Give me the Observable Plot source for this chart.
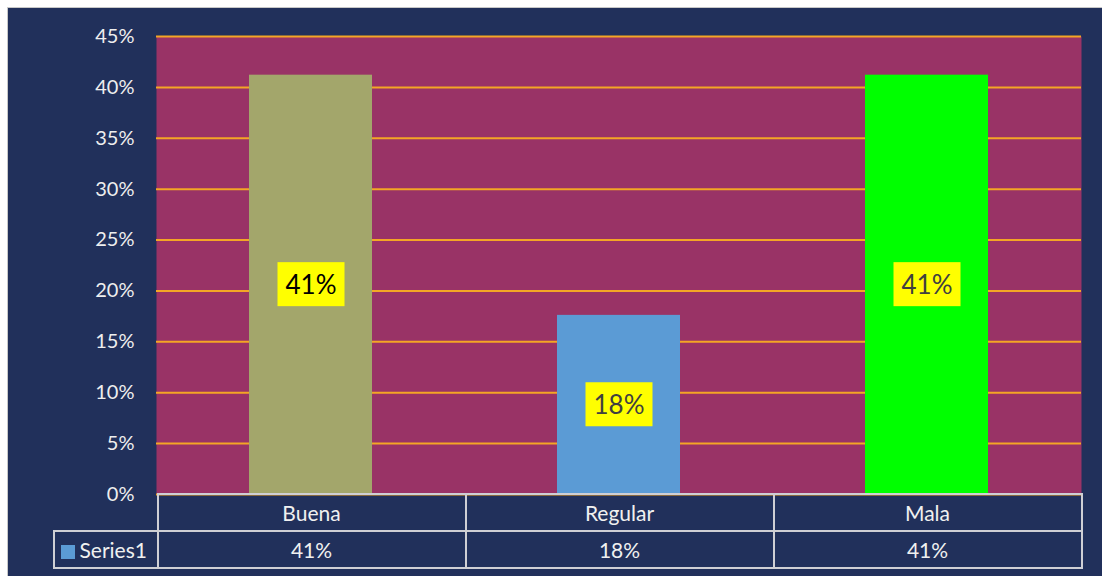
<!DOCTYPE html>
<html>
<head>
<meta charset="utf-8">
<script src="https://cdn.jsdelivr.net/npm/d3@7"></script>
<script src="https://cdn.jsdelivr.net/npm/@observablehq/plot@0.6"></script>
<style>
  html, body { margin: 0; padding: 0; background: #ffffff; }
  #panel {
    position: absolute; left: 7px; top: 7px; width: 1095px; height: 569px;
    background: #21305b; border-top: 1px solid #c8c8c8; border-left: 1px solid #c8c8c8;
    box-sizing: border-box; overflow: hidden; font-family: Lato, "Open Sans", sans-serif;
  }
  #chart { position: absolute; left: 0; top: 0; }
  #table {
    position: absolute; border-collapse: collapse; table-layout: fixed;
    color: #f0f0f0; font-size: 21px; font-family: Lato, "Open Sans", sans-serif;
  }
  #table td { border: 2px solid #cfcfd4; text-align: center; height: 35px; padding: 0; }
  #table td.blank { border: none; border-bottom: 2px solid #cfcfd4; }
  #table td.legend { text-align: left; padding-left: 6px; }
  .swatch { display: inline-block; width: 14px; height: 14px; margin-right: 5px; vertical-align: -1px; }
</style>
</head>
<body>
<div id="panel"><div id="chart"></div></div>
<script>
const categories = ["Buena", "Regular", "Mala"];
const values = [41.2, 17.6, 41.2];
const labels = ["41%", "18%", "41%"];
const barColors = ["#a3a66b", "#5b9bd5", "#00ff00"];
const labelColors = ["#000000", "#404040", "#404040"];
const yTicks = [0, 5, 10, 15, 20, 25, 30, 35, 40, 45];
const seriesName = "Series1";
const seriesColor = "#5b9bd5";

const data = categories.map((c, i) => ({
  category: c, value: values[i], label: labels[i],
  barColor: barColors[i], labelColor: labelColors[i]
}));

const chart = Plot.plot({
  width: 1094,
  height: 498,
  marginLeft: 148,
  marginRight: 21,
  marginTop: 28,
  marginBottom: 12,
  style: { background: "transparent", fontFamily: "Lato, 'Open Sans', sans-serif", overflow: "visible" },
  x: { domain: categories, paddingInner: 0.6, paddingOuter: 0.3, axis: null },
  y: { domain: [0, 45], ticks: yTicks },
  marks: [
    Plot.frame({ fill: "#993366", stroke: null }),
    Plot.gridY(yTicks, { stroke: "#f4a625", strokeOpacity: 1, strokeWidth: 2 }),
    Plot.axisY(yTicks, {
      tickSize: 0, tickPadding: 22, tickFormat: d => d + "%",
      fontSize: 20, fill: "#eeeeee", label: null
    }),
    Plot.barY(data, { x: "category", y: "value", fill: "barColor" }),
    Plot.text(data, {
      x: "category", y: d => d.value / 2, text: "label",
      fill: "labelColor", fontSize: 26, className: "dlabel"
    })
  ]
});
document.getElementById("chart").appendChild(chart);

// yellow label boxes behind data labels
chart.querySelectorAll("g.dlabel text").forEach(t => {
  const bb = t.getBBox();
  const cx = bb.x + bb.width / 2, cy = bb.y + bb.height / 2;
  const w = 67, h = 44;
  const tr = (t.getAttribute("transform") || "") + " translate(0,1)";
  const r = document.createElementNS("http://www.w3.org/2000/svg", "rect");
  r.setAttribute("x", cx - w / 2);
  r.setAttribute("y", cy - h / 2);
  r.setAttribute("width", w);
  r.setAttribute("height", h);
  r.setAttribute("fill", "#ffff00");
  r.setAttribute("transform", tr);
  t.parentNode.insertBefore(r, t);
  t.setAttribute("transform", tr);
});

// data table below, aligned with the x scale
const xs = chart.scale("x");
const yScale = chart.scale("y");
const step = xs.step;
const colLeft = xs.apply(categories[0]) - (xs.step - xs.bandwidth) / 2;
const legendW = 104;
const table = document.createElement("table");
table.id = "table";
table.style.left = (colLeft - legendW) + "px";
table.style.top = (yScale.apply(0) - 1) + "px";
table.style.width = (legendW + step * categories.length) + "px";
const colgroup = document.createElement("colgroup");
const c0 = document.createElement("col"); c0.style.width = legendW + "px"; colgroup.appendChild(c0);
categories.forEach(() => { const c = document.createElement("col"); c.style.width = step + "px"; colgroup.appendChild(c); });
table.appendChild(colgroup);

const r1 = document.createElement("tr");
const blank = document.createElement("td"); blank.className = "blank"; r1.appendChild(blank);
categories.forEach(c => { const td = document.createElement("td"); td.textContent = c; r1.appendChild(td); });
table.appendChild(r1);

const r2 = document.createElement("tr");
const lg = document.createElement("td"); lg.className = "legend";
lg.innerHTML = `<span class="swatch" style="background:${seriesColor}"></span>${seriesName}`;
r2.appendChild(lg);
labels.forEach(l => { const td = document.createElement("td"); td.textContent = l; r2.appendChild(td); });
table.appendChild(r2);

document.getElementById("panel").appendChild(table);
</script>
</body>
</html>
